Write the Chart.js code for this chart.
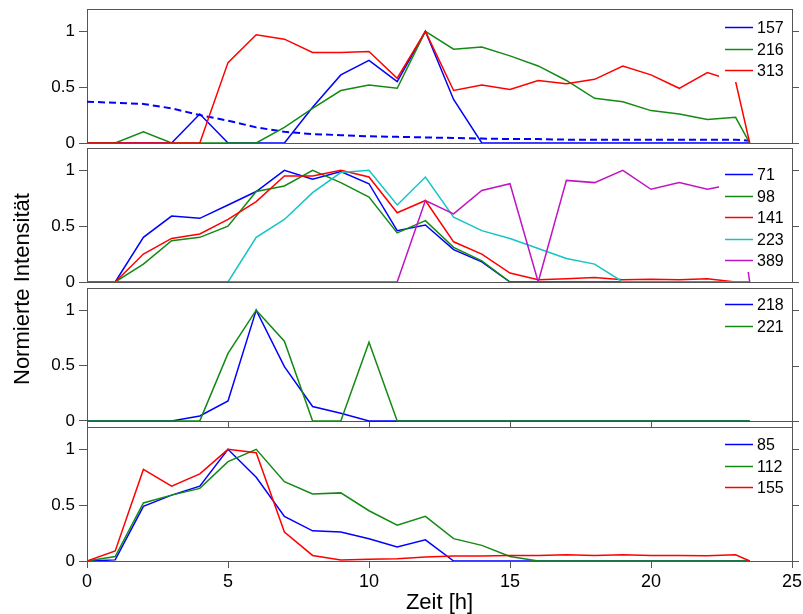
<!DOCTYPE html>
<html>
<head>
<meta charset="utf-8">
<script src="https://cdn.jsdelivr.net/npm/chart.js@4.4.1/dist/chart.umd.min.js"></script>
<style>
  html, body { margin: 0; padding: 0; background: #fff; }
  #wrap { position: relative; width: 803px; height: 614px; overflow: hidden; }
  #wrap canvas { position: absolute; left: 0; }
  #ytitle {
    position: absolute; left: 22px; top: 289px;
    transform: translate(-50%, -50%) rotate(-90deg);
    font: 22px "Liberation Sans", Arial, sans-serif;
    white-space: nowrap; color: #000;
  }
</style>
</head>
<body>
<div id="wrap">
  <canvas id="p1"></canvas>
  <canvas id="p2"></canvas>
  <canvas id="p3"></canvas>
  <canvas id="p4"></canvas>
  <div id="ytitle">Normierte Intensität</div>
</div>
<script>
// DATA (one value per hour, last point at 23.5 h)
const hours = [0, 1, 2, 3, 4, 5, 6, 7, 8, 9, 10, 11, 12, 13, 14, 15, 16, 17, 18, 19, 20, 21, 22, 23, 23.5];
const xTicks = [0, 5, 10, 15, 20, 25];
const yTicks = [0, 0.5, 1];

// panel 1
const s157 = [0, 0, 0, 0, 0.26, 0, 0, 0, 0.32, 0.61, 0.74, 0.55, 1.0, 0.39, 0, 0, 0, 0, 0, 0, 0, 0, 0, 0, 0];
const s216 = [0, 0, 0.10, 0, 0, 0, 0, 0.14, 0.31, 0.47, 0.52, 0.49, 1.0, 0.84, 0.86, 0.78, 0.69, 0.56, 0.40, 0.37, 0.29, 0.26, 0.21, 0.23, 0];
const s313 = [0, 0, 0, 0, 0, 0.72, 0.97, 0.93, 0.81, 0.81, 0.82, 0.58, 1.0, 0.47, 0.52, 0.48, 0.56, 0.53, 0.57, 0.69, 0.61, 0.49, 0.63, 0.55, 0];
const sDashed = [0.37, 0.36, 0.35, 0.31, 0.25, 0.20, 0.14, 0.10, 0.08, 0.07, 0.06, 0.055, 0.05, 0.045, 0.04, 0.035, 0.035, 0.03, 0.03, 0.03, 0.03, 0.03, 0.03, 0.03, 0.02];

// panel 2
const s71 = [0, 0, 0.40, 0.59, 0.57, 0.69, 0.81, 1.0, 0.92, 0.99, 0.88, 0.46, 0.51, 0.29, 0.18, 0, 0, 0, 0, 0, 0, 0, 0, 0, 0];
const s98 = [0, 0, 0.16, 0.37, 0.40, 0.50, 0.81, 0.86, 1.0, 0.89, 0.76, 0.44, 0.55, 0.31, 0.19, 0, 0, 0, 0, 0, 0, 0, 0, 0, 0];
const s141 = [0, 0, 0.25, 0.39, 0.43, 0.56, 0.72, 0.95, 0.95, 1.0, 0.94, 0.62, 0.73, 0.36, 0.25, 0.08, 0.02, 0.03, 0.04, 0.02, 0.025, 0.02, 0.03, 0, 0];
const s223 = [0, 0, 0, 0, 0, 0, 0.40, 0.56, 0.80, 0.98, 1.0, 0.69, 0.94, 0.58, 0.46, 0.39, 0.30, 0.21, 0.16, 0, 0, 0, 0, 0, 0];
const s389 = [0, 0, 0, 0, 0, 0, 0, 0, 0, 0, 0, 0, 0.73, 0.61, 0.82, 0.88, 0, 0.91, 0.89, 1.0, 0.83, 0.89, 0.83, 0.88, 0];

// panel 3
const s218 = [0, 0, 0, 0, 0.045, 0.18, 1.0, 0.49, 0.13, 0.07, 0, 0, 0, 0, 0, 0, 0, 0, 0, 0, 0, 0, 0, 0, 0];
const s221 = [0, 0, 0, 0, 0, 0.61, 1.0, 0.72, 0, 0, 0.71, 0, 0, 0, 0, 0, 0, 0, 0, 0, 0, 0, 0, 0, 0];

// panel 4
const s85 = [0, 0.01, 0.49, 0.59, 0.67, 1.0, 0.75, 0.40, 0.27, 0.26, 0.20, 0.125, 0.19, 0, 0, 0, 0, 0, 0, 0, 0, 0, 0, 0, 0];
const s112 = [0, 0.04, 0.52, 0.59, 0.65, 0.89, 1.0, 0.71, 0.60, 0.61, 0.45, 0.32, 0.40, 0.20, 0.14, 0.04, 0, 0, 0, 0, 0, 0, 0, 0, 0];
const s155 = [0, 0.09, 0.82, 0.67, 0.78, 1.0, 0.97, 0.26, 0.05, 0.01, 0.015, 0.02, 0.035, 0.045, 0.045, 0.05, 0.05, 0.055, 0.05, 0.055, 0.05, 0.05, 0.048, 0.055, 0];

const FONT = '"Liberation Sans", Arial, sans-serif';
const AXIS = '#555';
const BLUE = '#0000ff', GREEN = '#138a13', RED = '#ff0000', CYAN = '#14c4c4', MAGENTA = '#c014c4';

function line(label, values, color, dash) {
  return {
    label,
    data: hours.map((h, i) => ({ x: h, y: values[i] })),
    borderColor: color,
    borderWidth: dash ? 2 : 1.5,
    borderDash: dash || [],
    pointRadius: 0,
    tension: 0,
    fill: false
  };
}

// frame, right-hand ticks and the boxed legend inside each panel
const panelDeco = {
  id: 'panelDeco',
  beforeDatasetsDraw(chart, args, opts) {
    const { ctx, chartArea: a, scales: { x, y } } = chart;
    ctx.save();
    ctx.strokeStyle = AXIS;
    ctx.lineWidth = 1;
    ctx.strokeRect(a.left + 0.5, a.top + 0.5, a.right - a.left, a.bottom - a.top);
    ctx.beginPath();
    yTicks.forEach(v => {
      const py = Math.round(y.getPixelForValue(v)) + 0.5;
      ctx.moveTo(a.right, py);
      ctx.lineTo(a.right + 7, py);
    });
    if (opts.zeroTicks) {
      const p0 = Math.round(y.getPixelForValue(0)) + 0.5;
      ctx.moveTo(a.left, p0);
      ctx.lineTo(a.right, p0);
      xTicks.slice(1, -1).forEach(v => {
        const px = Math.round(x.getPixelForValue(v)) + 0.5;
        ctx.moveTo(px, p0);
        ctx.lineTo(px, a.bottom);
      });
    }
    ctx.stroke();
    ctx.restore();
  },
  afterDatasetsDraw(chart, args, opts) {
    const { ctx, chartArea: a } = chart;
    const items = chart.data.datasets.filter(d => d.label);
    const y0 = a.top + opts.legendTop;
    const row = 21.5;
    ctx.save();
    ctx.fillStyle = '#fff';
    ctx.fillRect(719, y0 - 11, a.right - 719, (items.length - 1) * row + 23);
    ctx.font = '16px ' + FONT;
    ctx.textBaseline = 'middle';
    items.forEach((d, i) => {
      const ly = Math.round(y0 + i * row) + 0.5;
      ctx.strokeStyle = d.borderColor;
      ctx.lineWidth = 1.5;
      ctx.beginPath();
      ctx.moveTo(725, ly);
      ctx.lineTo(753, ly);
      ctx.stroke();
      ctx.fillStyle = '#000';
      ctx.fillText(d.label, 757, ly + 1);
    });
    ctx.restore();
  }
};

function makePanel(id, p) {
  const canvas = document.getElementById(id);
  const padTop = 20;
  const padBottom = p.showX ? 0 : 20;
  const xAxisH = p.showX ? 614 - p.bottom : 0;
  canvas.width = 803;
  canvas.height = (p.bottom - p.top) + padTop + padBottom + xAxisH;
  canvas.style.top = (p.top - padTop) + 'px';

  // later series are drawn on top
  p.datasets.forEach((d, i) => { d.order = -i; });

  new Chart(canvas, {
    type: 'line',
    data: { datasets: p.datasets },
    options: {
      responsive: false,
      animation: false,
      devicePixelRatio: 1,
      layout: { padding: { left: 0, right: 11, top: padTop, bottom: padBottom } },
      plugins: {
        legend: { display: false },
        tooltip: { enabled: false },
        panelDeco: { legendTop: p.legendTop, zeroTicks: p.zeroTicks }
      },
      scales: {
        x: {
          type: 'linear', min: 0, max: 25, display: !!p.showX,
          afterBuildTicks: s => { s.ticks = xTicks.map(v => ({ value: v })); },
          afterFit: s => { s.height = xAxisH; s.paddingLeft = 0; s.paddingRight = 0; },
          grid: { drawOnChartArea: false, drawTicks: true, tickLength: 7, tickColor: AXIS },
          border: { display: false },
          ticks: { color: '#000', font: { family: FONT, size: 18 }, padding: 3, maxRotation: 0 },
          title: { display: true, text: 'Zeit [h]', color: '#000', font: { family: FONT, size: 22, lineHeight: 1 }, padding: 0 }
        },
        y: {
          type: 'linear', min: p.yMin, max: 1.2,
          afterBuildTicks: s => { s.ticks = yTicks.map(v => ({ value: v })); },
          afterFit: s => { s.width = 87; s.paddingTop = 0; s.paddingBottom = 0; },
          grid: { drawOnChartArea: false, drawTicks: true, tickLength: 8, tickColor: AXIS },
          border: { display: false },
          ticks: { color: '#000', font: { family: FONT, size: 17 }, padding: 4, callback: v => String(v) }
        }
      }
    },
    plugins: [panelDeco]
  });
}

makePanel('p1', {
  top: 9, bottom: 143, yMin: 0, legendTop: 18,
  datasets: [line('', sDashed, BLUE, [7, 4]), line('157', s157, BLUE), line('216', s216, GREEN), line('313', s313, RED)]
});
makePanel('p2', {
  top: 148, bottom: 282, yMin: 0, legendTop: 26,
  datasets: [line('71', s71, BLUE), line('98', s98, GREEN), line('141', s141, RED), line('223', s223, CYAN), line('389', s389, MAGENTA)]
});
makePanel('p3', {
  top: 288, bottom: 427, yMin: -0.055, legendTop: 16, zeroTicks: true,
  datasets: [line('218', s218, BLUE), line('221', s221, GREEN)]
});
makePanel('p4', {
  top: 427, bottom: 561, yMin: 0, legendTop: 17, showX: true,
  datasets: [line('85', s85, BLUE), line('112', s112, GREEN), line('155', s155, RED)]
});
</script>
</body>
</html>
